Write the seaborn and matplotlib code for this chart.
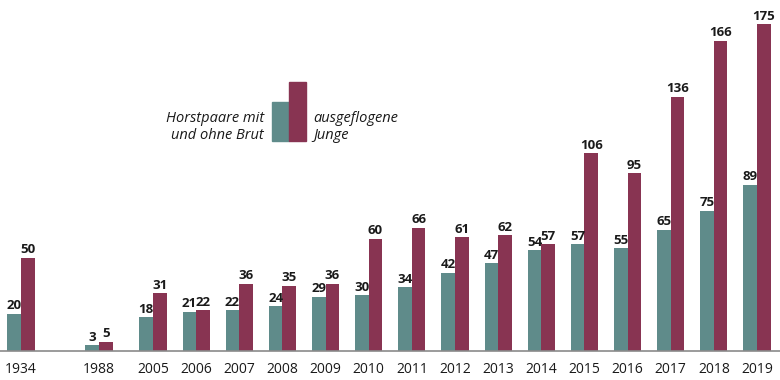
import matplotlib.pyplot as plt
import numpy as np
import pandas as pd
import seaborn as sns
from matplotlib.patches import Rectangle

# data
years = ["1934", "1988", "2005", "2006", "2007", "2008", "2009", "2010", "2011",
         "2012", "2013", "2014", "2015", "2016", "2017", "2018", "2019"]
horstpaare = [20, 3, 18, 21, 22, 24, 29, 30, 34, 42, 47, 54, 57, 55, 65, 75, 89]
junge = [50, 5, 31, 22, 36, 35, 36, 60, 66, 61, 62, 57, 106, 95, 136, 166, 175]

# slot of each year on the x axis (the early years sit on an irregular gap)
slots = [-3.06, -1.25] + list(range(15))

TEAL = "#5f8b8a"
MAROON = "#883452"

df = pd.DataFrame({
    "slot": slots * 2,
    "value": horstpaare + junge,
    "series": ["Horstpaare"] * len(years) + ["Junge"] * len(years),
})

sns.set_theme(style="white")
plt.rcParams["font.family"] = ["Open Sans", "DejaVu Sans"]

fig = plt.figure(figsize=(7.8, 3.8), dpi=100)
ax = fig.add_axes([0, 29 / 380, 1, 351 / 380])

sns.barplot(data=df, x="slot", y="value", hue="series", native_scale=True,
            palette=[TEAL, MAROON], width=0.63, saturation=1, gap=0,
            linewidth=0, edgecolor="none", legend=False, ax=ax)

for cont in ax.containers:
    ax.bar_label(cont, fmt="{:.0f}", padding=1, fontsize=9.5,
                 fontweight="bold", color="#1a1a1a")

ax.set_xlim(-153 / 43.14, 14 + 23 / 43.14)
ax.set_ylim(0, 351 / 1.8686)
ax.set_xticks(slots)
ax.set_xticklabels(years, fontsize=10, color="#1a1a1a")
ax.tick_params(axis="x", length=0, pad=8)
ax.set_yticks([])
ax.set_xlabel("")
ax.set_ylabel("")
for side in ["top", "right", "left"]:
    ax.spines[side].set_visible(False)
ax.spines["bottom"].set_color("#8a8a8a")
ax.spines["bottom"].set_linewidth(1.2)

# hand-made legend: two small bars with text on both sides
W, H = 780, 380
fig.patches.append(Rectangle((272 / W, (H - 141) / H), 17 / W, 39 / H,
                             transform=fig.transFigure, color=TEAL, zorder=3))
fig.patches.append(Rectangle((289 / W, (H - 141) / H), 17 / W, 59 / H,
                             transform=fig.transFigure, color=MAROON, zorder=3))
fig.text(264 / W, (H - 127) / H, "Horstpaare mit\nund ohne Brut", ha="right",
         va="center", fontsize=10.5, style="italic", color="#1a1a1a",
         linespacing=1.2)
fig.text(313 / W, (H - 127) / H, "ausgeflogene\nJunge", ha="left",
         va="center", fontsize=10.5, style="italic", color="#1a1a1a",
         linespacing=1.2)

fig.savefig("out.png", dpi=100)
